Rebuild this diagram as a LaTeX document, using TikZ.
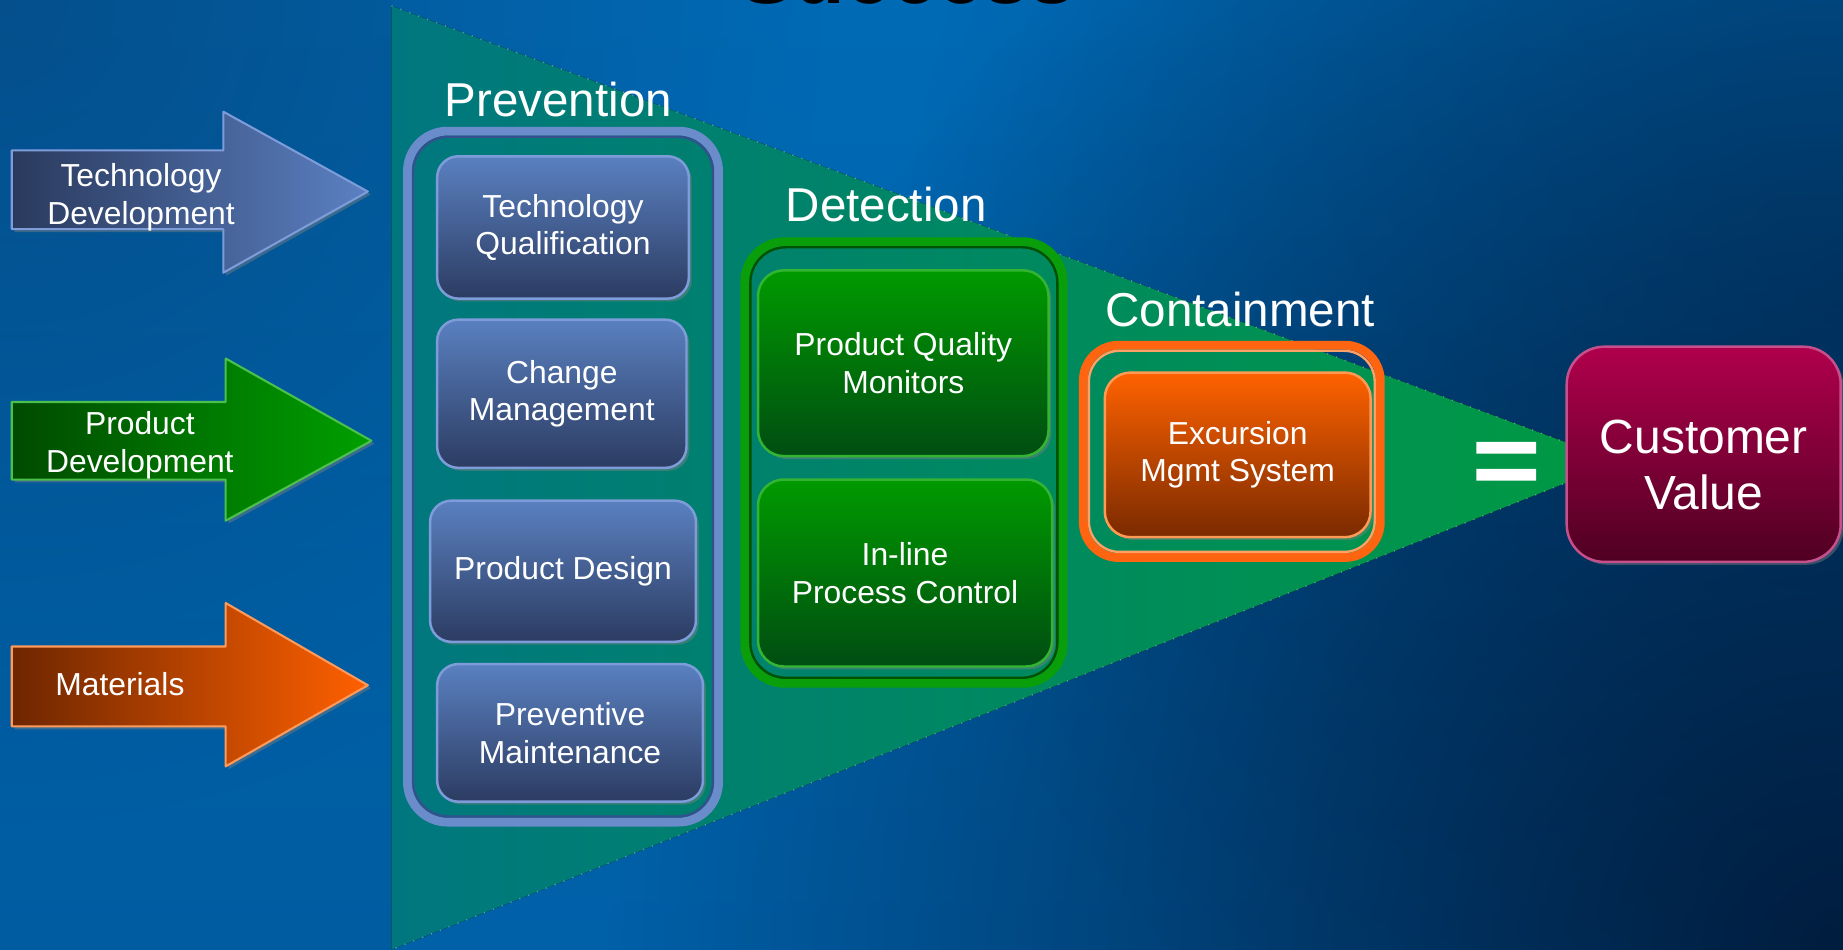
\documentclass[tikz,border=0pt]{standalone}
\usepackage{fontspec}
\setmainfont{Liberation Sans}
\usetikzlibrary{shadows,fadings}
\definecolor{bgTop}{HTML}{006AB5}
\definecolor{bgMid}{HTML}{0074C6}
\definecolor{bgBot}{HTML}{0060A8}
\definecolor{bgDark}{HTML}{011A3A}
\definecolor{bgDeep}{HTML}{0C3A6C}
\definecolor{triL}{HTML}{00777F}
\definecolor{triR}{HTML}{009A42}
\definecolor{techL}{HTML}{2A3A5D}
\definecolor{techR}{HTML}{5B80C2}
\definecolor{techE}{HTML}{7D9CD9}
\definecolor{prodL}{HTML}{004A00}
\definecolor{prodR}{HTML}{00A000}
\definecolor{prodE}{HTML}{4CC04C}
\definecolor{matL}{HTML}{6E2600}
\definecolor{matR}{HTML}{FF6000}
\definecolor{matE}{HTML}{FF9A5A}
\definecolor{blueT}{HTML}{5A80C0}
\definecolor{blueB}{HTML}{2C3C62}
\definecolor{blueBand}{HTML}{6A8CCA}
\definecolor{blueLine}{HTML}{34508E}
\definecolor{greenT}{HTML}{009A00}
\definecolor{greenB}{HTML}{004D12}
\definecolor{greenE}{HTML}{33B533}
\definecolor{greenBand}{HTML}{0A9E0A}
\definecolor{greenLine}{HTML}{005200}
\definecolor{orgT}{HTML}{FF6200}
\definecolor{orgB}{HTML}{7A2A00}
\definecolor{orgE}{HTML}{FF9A55}
\definecolor{orgBand}{HTML}{FF6410}
\definecolor{orgLine}{HTML}{FFA066}
\definecolor{custT}{HTML}{B0004C}
\definecolor{custB}{HTML}{4F0022}
\definecolor{custE}{HTML}{C5508C}
\tikzfading[name=cornerfade,inner color=transparent!5,outer color=transparent!100]
\begin{document}
\begin{tikzpicture}[x=.01cm,y=-.01cm,line join=round,
  small/.style={text=white,align=center,font=\fontsize{7.7}{9.1}\selectfont},
  head/.style={text=white,font=\fontsize{11.5}{13}\selectfont},
  shad/.style={drop shadow={shadow xshift=.7pt,shadow yshift=-.7pt,opacity=.45}},
  arrowbase/.style={line width=.5pt,shad},
  techarrow/.style={arrowbase,left color=techL,right color=techR,draw=techE},
  prodarrow/.style={arrowbase,left color=prodL,right color=prodR,draw=prodE},
  matarrow/.style={arrowbase,left color=matL,right color=matR,draw=matE},
  frame/.style={rounded corners=.34cm,line width=.075cm,inner sep=0pt,outer sep=0pt},
  frameline/.style={line width=.02cm,rounded corners=.30cm},
  bluebox/.style={small,rounded corners=.18cm,top color=blueT,bottom color=blueB,draw=techE,line width=.6pt,shad},
  greenbox/.style={small,rounded corners=.22cm,top color=greenT,bottom color=greenB,draw=greenE,line width=.6pt,shad},
  orgbox/.style={small,rounded corners=.22cm,top color=orgT,bottom color=orgB,draw=orgE,line width=.6pt,shad},
  custtxt/.style={text=white,align=center,font=\fontsize{11.6}{13.7}\selectfont}]
\useasboundingbox (0,0) rectangle (1568,808);
\shade[top color=bgTop,middle color=bgMid,bottom color=bgBot] (0,0) rectangle (1568,808);
\fill[bgDark,path fading=cornerfade] (1568,808) circle (1050);
\fill[bgDark,path fading=cornerfade,fill opacity=.45] (1568,250) circle (800);
\fill[bgDeep,path fading=cornerfade,fill opacity=.5] (0,0) circle (700);
\fill[black,opacity=.04] (0,0) rectangle (333,808);
\node[anchor=base,font=\bfseries\fontsize{20}{24}\selectfont] (succ) at (772,3) {Success};
\fill[left color=triL,right color=triR] (333,5) -- (1377,393) -- (333,808) -- cycle;
\draw[white,opacity=.35,line width=.3pt,dotted] (333,5) -- (1377,393) -- (333,808);

\draw[techarrow] (10,128) -- (190,128) -- (190,95) -- (313,163) -- (190,232) -- (190,195) -- (10,195) -- cycle;
\draw[prodarrow] (10,342) -- (192,342) -- (192,305) -- (316,375) -- (192,443) -- (192,408) -- (10,408) -- cycle;
\draw[matarrow] (10,550) -- (192,550) -- (192,513) -- (313,583) -- (192,652) -- (192,618) -- (10,618) -- cycle;
\node[small] (techdev) at (120,168) {Technology\\Development};
\node[small] (proddev) at (119,379) {Product\\Development};
\node[small] (mat) at (102,582) {Materials};

\node[frame,draw=blueBand,minimum width=2.645cm,minimum height=5.875cm] (prev) at (479,405.5) {};
\draw[frameline,blueLine] ([shift={(4.75,4.75)}]prev.north west) rectangle ([shift={(-4.75,-4.75)}]prev.south east);
\node[head] (prevhd) at (475,85) {Prevention};
\node[bluebox,minimum width=2.14cm,minimum height=1.21cm] (techq) at (479,193.5) {Technology\\Qualification};
\node[bluebox,minimum width=2.12cm,minimum height=1.26cm] (chg) at (478,335) {Change\\Management};
\node[bluebox,minimum width=2.26cm,minimum height=1.20cm] (pdes) at (479,486) {Product Design};
\node[bluebox,minimum width=2.26cm,minimum height=1.17cm] (pmaint) at (485,623.5) {Preventive\\Maintenance};

\node[frame,draw=greenBand,minimum width=2.705cm,minimum height=3.755cm] (det) at (769,393.5) {};
\draw[frameline,greenLine] ([shift={(4.75,4.75)}]det.north west) rectangle ([shift={(-4.75,-4.75)}]det.south east);
\node[head] (dethd) at (754,174) {Detection};
\node[greenbox,minimum width=2.47cm,minimum height=1.58cm] (pqm) at (768.5,309) {Product Quality\\Monitors};
\node[greenbox,minimum width=2.50cm,minimum height=1.59cm] (ipc) at (770,487.5) {In-line\\Process Control};

\node[frame,draw=orgBand,rounded corners=.30cm,minimum width=2.525cm,minimum height=1.805cm] (cont) at (1048,384) {};
\draw[frameline,orgLine,rounded corners=.26cm] ([shift={(4.75,4.75)}]cont.north west) rectangle ([shift={(-4.75,-4.75)}]cont.south east);
\node[head] (conthd) at (1055,263) {Containment};
\node[orgbox,minimum width=2.26cm,minimum height=1.40cm] (ems) at (1053,387) {Excursion\\Mgmt System};

\fill[white] (1256,376) rectangle (1307,386) (1256,399) rectangle (1307,409);
\node[rounded corners=.32cm,top color=custT,bottom color=custB,draw=custE,line width=.6pt,shad,
  minimum width=2.33cm,minimum height=1.83cm,
  label={[custtxt,yshift=-.09cm]center:Customer\\Value}] (cust) at (1449.5,386.5) {};
\end{tikzpicture}
\end{document}
